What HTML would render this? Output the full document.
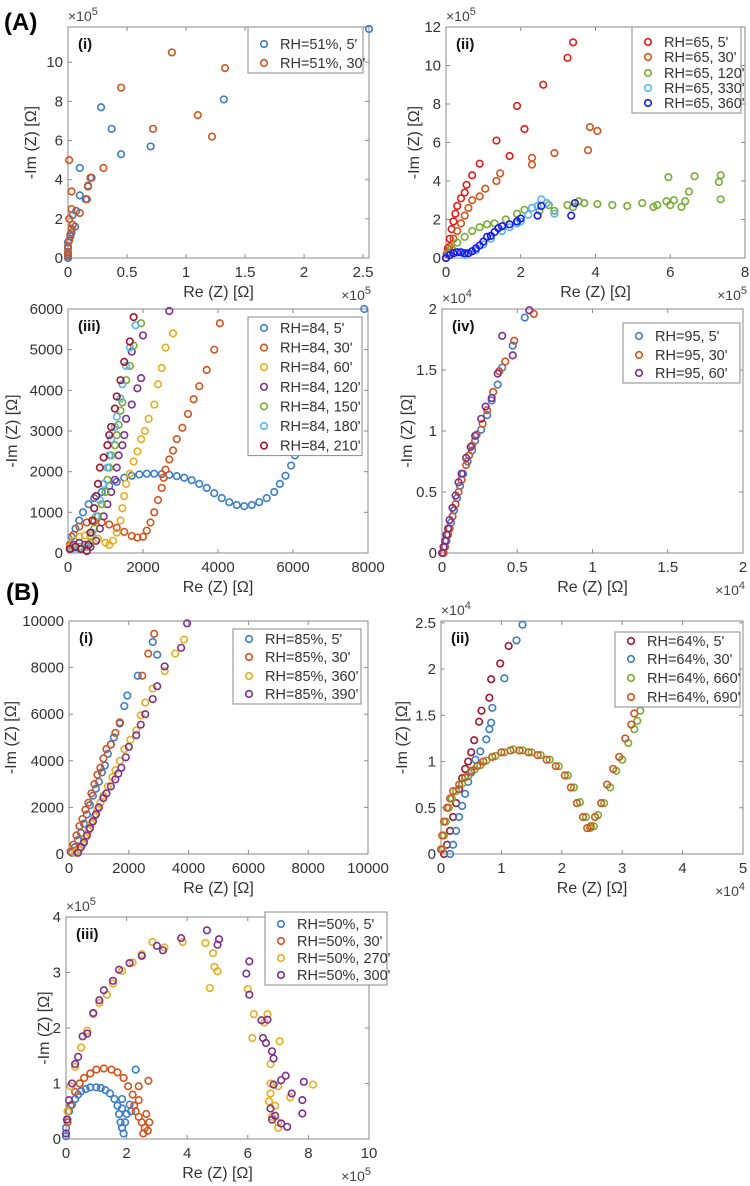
<!DOCTYPE html>
<html><head><meta charset="utf-8">
<style>
html,body{margin:0;padding:0;background:#fff;}
svg{display:block;font-family:"Liberation Sans",sans-serif;}
</style></head>
<body>
<svg id="fig" width="750" height="1186" viewBox="0 0 750 1186" xmlns="http://www.w3.org/2000/svg">
<rect width="750" height="1186" fill="#fff"/>
<text x="4" y="30" font-size="24" font-weight="bold" fill="#000">(A)</text>
<text x="6" y="600" font-size="24" font-weight="bold" fill="#000">(B)</text>
</svg>
<script>
// ---------- DATA ----------
// A(i)  units 1e5 Ohm
const a1_5 = [[0,0],[0,0.2],[0,0.5],[0,0.8],[0.02,1.1],[0.03,1.3],[0.06,1.6],[0.04,2.2],[0.07,2.4],[0.1,3.2],[0.15,3.0],[0.17,3.7],[0.2,4.1],[0.1,4.6],[0.45,5.3],[0.28,7.7],[0.37,6.6],[0.7,5.7],[1.32,8.1],[2.25,11.4],[2.55,11.7]];
const a1_30 = [[0,0.1],[0,0.3],[0,0.6],[0.01,0.9],[0.02,1.2],[0.03,1.5],[0.04,1.7],[0.01,2.0],[0.03,2.5],[0.03,3.4],[0.1,2.3],[0.16,3.0],[0.17,3.65],[0.19,4.1],[0.3,4.6],[0.01,5.0],[0.45,8.7],[0.72,6.6],[0.88,10.5],[1.1,7.3],[1.22,6.2],[1.33,9.7]];
// A(ii) units 1e5
const a2_5 = [[0,0],[0.02,0.2],[0.05,0.5],[0.1,1],[0.15,1.5],[0.2,1.9],[0.25,2.3],[0.3,2.7],[0.4,3.1],[0.5,3.4],[0.55,3.8],[0.7,4.3],[0.9,4.9],[1.35,6.1],[1.7,5.3],[1.9,7.9],[2.1,6.7],[2.6,9],[3.25,10.4],[3.4,11.2]];
const a2_30 = [[0.05,0.3],[0.1,0.6],[0.2,1.0],[0.3,1.4],[0.4,1.8],[0.5,2.2],[0.6,2.6],[0.7,3.0],[0.9,3.2],[1.05,3.6],[1.35,4.0],[1.45,4.4],[2.3,5.2],[2.3,4.85],[2.9,5.45],[3.8,5.6],[3.85,6.8],[4.05,6.6]];
const a2_120 = [[0.05,0.2],[0.15,0.5],[0.3,0.8],[0.5,1.1],[0.7,1.4],[0.9,1.6],[1.1,1.75],[1.3,1.8],[1.6,2.0],[1.9,2.3],[2.1,2.5],[2.5,2.45],[2.75,2.75],[2.9,2.45],[3.25,2.75],[3.4,2.65],[3.55,2.95],[3.7,2.85],[4.05,2.8],[4.45,2.75],[4.85,2.7],[5.25,2.85],[5.55,2.65],[5.65,2.75],[5.9,2.95],[6.0,2.75],[6.1,3.0],[6.3,2.65],[6.4,2.95],[6.5,3.45],[5.95,4.2],[6.65,4.25],[7.3,3.95],[7.35,4.3],[7.35,3.05]];
const a2_330 = [[0,0],[0.5,0.15],[0.8,0.4],[1.0,0.7],[1.2,1.0],[1.5,1.4],[1.7,1.6],[1.9,1.8],[2.0,1.9],[2.2,2.25],[2.3,2.6],[2.55,3.05],[2.7,2.85],[2.9,2.3],[2.45,2.7]];
const a2_360 = [[0,0],[0.1,0.15],[0.2,0.25],[0.3,0.3],[0.4,0.3],[0.5,0.25],[0.6,0.25],[0.7,0.35],[0.8,0.5],[0.9,0.65],[1.0,0.85],[1.1,1.1],[1.2,1.15],[1.3,1.35],[1.4,1.55],[1.5,1.65],[1.7,1.75],[1.9,1.9],[2.0,2.05],[2.45,2.2],[2.55,2.7],[3.35,2.2],[3.45,2.85]];
// A(iii) units Ohm
const a3_5 = [[50,200],[100,400],[200,600],[300,800],[400,1000],[550,1200],[700,1350],[900,1500],[1100,1650],[1300,1750],[1500,1850],[1700,1900],[1900,1930],[2100,1950],[2300,1950],[2500,1940],[2700,1920],[2900,1890],[3100,1850],[3300,1790],[3500,1700],[3700,1600],[3900,1470],[4100,1350],[4300,1250],[4500,1180],[4700,1150],[4900,1180],[5100,1250],[5300,1350],[5500,1500],[5650,1700],[5800,1900],[5950,2150],[6050,2400],[6100,2650],[6150,2900],[7900,6000]];
const a3_30 = [[50,200],[150,450],[300,650],[500,750],[700,780],[900,750],[1100,700],[1300,620],[1500,520],[1700,420],[1850,380],[2000,400],[2100,550],[2200,750],[2300,1000],[2400,1300],[2500,1600],[2550,1850],[2600,2050],[2700,2300],[2800,2520],[2900,2800],[3050,3080],[3200,3420],[3350,3780],[3500,4100],[3700,4500],[3900,5000],[4050,5650]];
const a3_60 = [[50,150],[150,300],[300,400],[450,430],[600,420],[800,350],[1000,250],[1100,200],[1200,300],[1300,500],[1400,800],[1450,1100],[1500,1400],[1550,1700],[1650,1950],[1750,2250],[1850,2500],[1950,2800],[2050,3000],[2150,3300],[2300,3650],[2400,4150],[2500,4550],[2600,5050],[2800,5400]];
const a3_120 = [[50,100],[150,200],[300,250],[450,200],[600,150],[750,300],[850,600],[950,900],[1050,1200],[1150,1500],[1250,1800],[1300,2100],[1350,2400],[1450,2650],[1500,2900],[1550,3300],[1700,3650],[1850,4050],[1950,4300],[1700,4950],[2000,5350],[2700,5950]];
const a3_150 = [[100,100],[300,150],[500,150],[600,250],[700,600],[800,900],[900,1200],[1000,1500],[1050,1800],[1100,2100],[1150,2400],[1250,2650],[1300,2900],[1350,3150],[1400,3500],[1450,3700],[1550,4250],[1650,4600],[1750,5100],[1950,5650]];
const a3_180 = [[100,80],[300,100],[500,150],[650,500],[750,900],[850,1300],[950,1700],[1050,2100],[1100,2400],[1150,2800],[1250,3100],[1300,3350],[1400,3800],[1450,4150],[1550,4600],[1650,5050],[1800,5600]];
const a3_210 = [[50,100],[200,150],[350,100],[500,50],[550,200],[600,500],[650,800],[700,1100],[750,1400],[800,1700],[850,2100],[950,2350],[1050,2650],[1100,2900],[1150,3100],[1250,3550],[1300,3850],[1400,4250],[1500,4700],[1650,5200],[1750,5800]];
// A(iv) units 1e4
const a4_5 = [[0.01,0],[0.02,0.05],[0.03,0.1],[0.04,0.15],[0.05,0.2],[0.06,0.25],[0.07,0.3],[0.08,0.35],[0.1,0.45],[0.12,0.55],[0.14,0.65],[0.17,0.75],[0.2,0.84],[0.22,0.92],[0.26,1.01],[0.3,1.13],[0.33,1.25],[0.37,1.38],[0.4,1.52],[0.47,1.7],[0.55,1.93]];
const a4_30 = [[0.01,0],[0.02,0.05],[0.04,0.15],[0.05,0.2],[0.07,0.3],[0.09,0.4],[0.11,0.5],[0.13,0.6],[0.16,0.72],[0.18,0.8],[0.2,0.88],[0.23,0.97],[0.27,1.06],[0.3,1.17],[0.34,1.32],[0.38,1.49],[0.42,1.57],[0.48,1.74],[0.61,1.96]];
const a4_60 = [[0,0],[0.01,0.05],[0.02,0.1],[0.03,0.15],[0.04,0.2],[0.05,0.27],[0.07,0.37],[0.09,0.47],[0.11,0.58],[0.13,0.65],[0.16,0.78],[0.19,0.87],[0.22,0.96],[0.26,1.1],[0.29,1.2],[0.33,1.27],[0.37,1.47],[0.4,1.78],[0.47,1.62],[0.58,1.99]];
// B(i) units Ohm
const b1_5 = [[100,50],[200,300],[300,600],[400,900],[500,1300],[600,1700],[700,2100],[800,2500],[900,2800],[1000,3100],[1100,3500],[1200,3800],[1300,4300],[1400,4700],[1500,5000],[1700,5600],[1850,6350],[1950,6800],[2300,7650],[2800,9100],[2950,8550]];
const b1_30 = [[50,100],[150,400],[250,800],[350,1200],[450,1500],[550,1900],[650,2200],[750,2600],[850,3000],[950,3400],[1050,3700],[1150,4100],[1250,4500],[1400,4700],[1550,5200],[1700,5650],[2450,7650],[2650,8600],[2850,9450]];
const b1_360 = [[200,50],[350,200],[450,400],[550,700],[650,1000],[750,1300],[850,1600],[950,1900],[1050,2200],[1150,2500],[1300,2900],[1450,3300],[1550,3600],[1700,4000],[1850,4500],[2050,4900],[2250,5300],[2400,5950],[2550,6500],[2800,7100],[3200,7850],[3550,8600],[3850,9200]];
const b1_390 = [[300,50],[400,300],[500,500],[600,800],[700,1100],[800,1400],[900,1700],[1000,2000],[1150,2400],[1250,2600],[1400,2900],[1550,3200],[1650,3450],[1750,3700],[1900,4150],[2000,4600],[2250,5100],[2400,5550],[2550,6000],[2800,6650],[2950,7200],[3200,8050],[3750,8850],[3950,9900]];
// B(ii) units 1e4
const b2_5 = [[0.05,0],[0.1,0.1],[0.15,0.25],[0.2,0.4],[0.25,0.55],[0.3,0.7],[0.35,0.82],[0.4,0.92],[0.45,1.0],[0.5,1.1],[0.55,1.23],[0.63,1.43],[0.67,1.55],[0.8,1.69],[0.83,1.89],[0.98,2.06],[1.12,2.25]];
const b2_30 = [[0.15,0],[0.2,0.1],[0.25,0.25],[0.3,0.4],[0.35,0.52],[0.4,0.65],[0.45,0.78],[0.5,0.88],[0.57,1.02],[0.65,1.11],[0.75,1.24],[0.8,1.35],[0.83,1.42],[0.85,1.58],[1.05,1.9],[1.25,2.31],[1.35,2.48]];
const b2_660 = [[0.02,0.05],[0.05,0.2],[0.08,0.35],[0.13,0.5],[0.18,0.6],[0.25,0.68],[0.35,0.76],[0.45,0.84],[0.55,0.91],[0.65,0.96],[0.75,1.01],[0.9,1.06],[1.05,1.1],[1.2,1.13],[1.35,1.12],[1.5,1.1],[1.65,1.07],[1.8,1.02],[1.95,0.95],[2.1,0.85],[2.2,0.72],[2.3,0.56],[2.4,0.4],[2.47,0.28],[2.53,0.3],[2.6,0.42],[2.7,0.55],[2.8,0.72],[2.9,0.9],[3.0,1.02],[3.1,1.2],[3.2,1.35],[3.25,1.44],[3.3,1.55]];
const b2_690 = [[0,0.05],[0.02,0.2],[0.05,0.35],[0.1,0.5],[0.15,0.6],[0.2,0.68],[0.3,0.75],[0.4,0.83],[0.5,0.9],[0.6,0.95],[0.7,1.0],[0.85,1.05],[1.0,1.1],[1.15,1.12],[1.3,1.12],[1.45,1.1],[1.6,1.07],[1.75,1.02],[1.9,0.95],[2.05,0.85],[2.15,0.72],[2.25,0.55],[2.35,0.4],[2.42,0.28],[2.48,0.3],[2.55,0.4],[2.65,0.55],[2.75,0.75],[2.85,0.92],[2.95,1.05],[3.05,1.25],[3.15,1.4],[3.2,1.52]];
// B(iii) units 1e5
const b3_5 = [[0,0.05],[0,0.2],[0.05,0.35],[0.1,0.5],[0.2,0.62],[0.3,0.72],[0.4,0.8],[0.5,0.86],[0.65,0.9],[0.8,0.93],[1.0,0.93],[1.15,0.92],[1.3,0.88],[1.45,0.82],[1.6,0.72],[1.7,0.6],[1.75,0.45],[1.8,0.3],[1.85,0.2],[1.9,0.1],[1.95,0.3],[2.0,0.45],[1.85,0.55],[2.1,0.62],[1.85,0.72],[2.15,0.5],[2.3,1.25]];
const b3_30 = [[0.05,0.3],[0.15,0.6],[0.3,0.85],[0.45,1.0],[0.6,1.1],[0.8,1.18],[1.0,1.25],[1.25,1.27],[1.5,1.25],[1.7,1.2],[1.9,1.1],[2.05,0.95],[2.2,0.8],[2.25,0.6],[2.3,0.5],[2.4,0.4],[2.5,0.3],[2.6,0.2],[2.55,0.1],[2.7,0.15],[2.65,0.45],[2.75,0.3],[2.4,0.7],[2.4,0.95],[2.72,1.05]];
const b3_270 = [[0.05,0.5],[0.15,0.95],[0.3,1.3],[0.5,1.65],[0.7,1.95],[0.9,2.25],[1.1,2.45],[1.35,2.6],[1.55,2.8],[1.85,3.03],[2.2,3.18],[2.5,3.33],[2.85,3.55],[3.25,3.45],[3.85,3.55],[4.6,3.53],[4.85,3.35],[4.9,3.1],[5.0,3.02],[4.75,2.72],[6.0,2.7],[6.2,2.25],[6.55,2.1],[6.65,2.25],[6.15,1.82],[7.05,1.76],[6.75,1.35],[6.75,1.0],[7.0,0.95],[6.7,0.68],[6.9,0.6],[6.8,0.4],[7.0,0.3],[7.0,0.2],[7.4,0.75],[8.15,0.98],[6.75,0.82]];
const b3_300 = [[0,0.1],[0.03,0.35],[0.1,0.7],[0.2,1.0],[0.3,1.35],[0.4,1.48],[0.55,1.85],[0.7,1.9],[0.9,2.27],[1.1,2.5],[1.25,2.68],[1.55,2.85],[1.75,3.05],[2.1,3.17],[2.5,3.3],[3.0,3.48],[3.2,3.4],[3.8,3.62],[4.65,3.76],[5.05,3.6],[5.0,3.5],[5.95,2.98],[6.05,3.2],[6.05,2.6],[6.45,2.14],[6.65,2.15],[6.5,1.82],[6.6,1.73],[6.8,1.58],[6.85,1.45],[6.85,0.98],[7.1,1.06],[7.25,1.14],[7.45,0.82],[7.85,1.03],[7.8,0.7],[7.8,0.46],[6.75,0.55],[6.9,0.42],[6.8,0.35],[7.1,0.28],[7.3,0.22]];

const a1_xticks=[0,0.5,1,1.5,2,2.5], a1_yticks=[0,2,4,6,8,10];
const a2_xticks=[0,2,4,6,8], a2_yticks=[0,2,4,6,8,10,12];
const a3_xticks=[0,2000,4000,6000,8000], a3_yticks=[0,1000,2000,3000,4000,5000,6000];
const a4_xticks=[0,0.5,1,1.5,2], a4_yticks=[0,0.5,1,1.5,2];
const b1_xticks=[0,2000,4000,6000,8000,10000], b1_yticks=[0,2000,4000,6000,8000,10000];
const b2_xticks=[0,1,2,3,4,5], b2_yticks=[0,0.5,1,1.5,2,2.5];
const b3_xticks=[0,2,4,6,8,10], b3_yticks=[0,1,2,3,4];

const C={blue:'#3a7dc9',orange:'#d4531c',yellow:'#e8ad1d',purple:'#7e2f8e',green:'#77ac30',lblue:'#5ab4ee',dred:'#a2142f',red:'#e31a1a',dblue:'#1a1aee'};

const panels=[
 {id:'a1',tag:'(i)',L:68,R:369,T:27,B:258,xmax:2.55,ymax:11.8,xt:a1_xticks,yt:a1_yticks,ylx:32,yexp:'5',xexp:'5',
  series:[[a1_5,C.blue,'RH=51%, 5\''],[a1_30,C.orange,'RH=51%, 30\'']],leg:{x:248,y:27,w:115,rows:[44,63]}},
 {id:'a2',tag:'(ii)',L:446,R:745,T:27,B:258,xmax:8,ymax:12,xt:a2_xticks,yt:a2_yticks,ylx:415,yexp:'5',xexp:'5',
  series:[[a2_5,C.red,'RH=65, 5\''],[a2_30,C.orange,'RH=65, 30\''],[a2_120,C.green,'RH=65, 120\''],[a2_330,C.lblue,'RH=65, 330\''],[a2_360,C.dblue,'RH=65, 360\'']],leg:{x:632,y:27,w:109,rows:[42,57,73,88,103]}},
 {id:'a3',tag:'(iii)',L:68,R:368,T:309,B:553,xmax:8000,ymax:6000,xt:a3_xticks,yt:a3_yticks,ylx:13,
  series:[[a3_5,C.blue,'RH=84, 5\''],[a3_30,C.orange,'RH=84, 30\''],[a3_60,C.yellow,'RH=84, 60\''],[a3_120,C.purple,'RH=84, 120\''],[a3_150,C.green,'RH=84, 150\''],[a3_180,C.lblue,'RH=84, 180\''],[a3_210,C.dred,'RH=84, 210\'']],leg:{x:248,y:317,w:114,rows:[328,348,368,388,408,428,447].map((v,i)=>328+i*19.6)}},
 {id:'a4',tag:'(iv)',L:442,R:743,T:309,B:553,xmax:2,ymax:2,xt:a4_xticks,yt:a4_yticks,ylx:408,yexp:'4',xexp:'4',
  series:[[a4_5,C.blue,'RH=95, 5\''],[a4_30,C.orange,'RH=95, 30\''],[a4_60,C.purple,'RH=95, 60\'']],leg:{x:623,y:323,w:117,rows:[336,355,373]}},
 {id:'b1',tag:'(i)',L:69,R:368,T:621,B:854,xmax:10000,ymax:10000,xt:b1_xticks,yt:b1_yticks,ylx:12,
  series:[[b1_5,C.blue,'RH=85%, 5\''],[b1_30,C.orange,'RH=85%, 30\''],[b1_360,C.yellow,'RH=85%, 360\''],[b1_390,C.purple,'RH=85%, 390\'']],leg:{x:233,y:629,w:128,rows:[639,657,676,694]}},
 {id:'b2',tag:'(ii)',L:441,R:743,T:621,B:854,xmax:5,ymax:2.52,xt:b2_xticks,yt:b2_yticks,ylx:403,yexp:'4',xexp:'4',
  series:[[b2_5,C.dred,'RH=64%, 5\''],[b2_30,C.blue,'RH=64%, 30\''],[b2_660,C.green,'RH=64%, 660\''],[b2_690,C.orange,'RH=64%, 690\'']],leg:{x:615,y:632,w:125,rows:[641,659,678,697]}},
 {id:'b3',tag:'(iii)',L:66,R:369,T:917,B:1139,xmax:10,ymax:4,xt:b3_xticks,yt:b3_yticks,ylx:45,yexp:'5',xexp:'5',
  series:[[b3_5,C.blue,'RH=50%, 5\''],[b3_30,C.orange,'RH=50%, 30\''],[b3_270,C.yellow,'RH=50%, 270\''],[b3_300,C.purple,'RH=50%, 300\'']],leg:{x:265,y:912,w:122,rows:[924,941,958,975]}}
];

const NS='http://www.w3.org/2000/svg';
const svg=document.getElementById('fig');
function mk(tag,attrs,parent){const e=document.createElementNS(NS,tag);for(const k in attrs)e.setAttribute(k,attrs[k]);(parent||svg).appendChild(e);return e;}

panels.forEach(p=>{
  const g=mk('g',{});
  
  
  const xs=v=>p.L+(p.R-p.L)*v/p.xmax;
  const ys=v=>p.B-(p.B-p.T)*v/p.ymax;
  const ax=mk('rect',{x:p.L,y:p.T,width:p.R-p.L,height:p.B-p.T,fill:'#fff',stroke:'#8a8a8a','stroke-width':1},g);
  
  
  p.xt.forEach(v=>{
    const x=xs(v);
    mk('line',{x1:x,x2:x,y1:p.B,y2:p.B-4,stroke:'#8a8a8a'},g);
    mk('line',{x1:x,x2:x,y1:p.T,y2:p.T+4,stroke:'#8a8a8a'},g);
    const t=mk('text',{x:x,y:p.B+19,'font-size':15,fill:'#333','text-anchor':'middle'},g);
    t.textContent=String(v);
    
    
  });
  p.yt.forEach(v=>{
    const y=ys(v);
    mk('line',{x1:p.L,x2:p.L+4,y1:y,y2:y,stroke:'#8a8a8a'},g);
    mk('line',{x1:p.R,x2:p.R-4,y1:y,y2:y,stroke:'#8a8a8a'},g);
    const t=mk('text',{x:p.L-5,y:y+5,'font-size':15,fill:'#333','text-anchor':'end'},g);
    t.textContent=String(v);
    
    
  });
  const xl=mk('text',{x:(p.L+p.R)/2,y:p.B+39,'font-size':16,fill:'#333','text-anchor':'middle'},g);
  xl.textContent='Re (Z) [Ω]';
  
  
  const yc=(p.T+p.B)/2;
  const yl=mk('text',{x:p.ylx,y:yc,'font-size':16,fill:'#333','text-anchor':'middle',transform:`rotate(-90 ${p.ylx} ${yc})`,'dominant-baseline':'middle'},g);
  yl.textContent='-Im (Z) [Ω]';
  
  
  if(p.yexp){
    const t=mk('text',{x:p.L,y:p.T-6,'font-size':14,fill:'#444'},g);
    t.innerHTML='×10<tspan dy="-6" font-size="11">'+p.yexp+'</tspan>';
    
    
  }
  if(p.xexp){
    const t=mk('text',{x:p.R+2,y:p.B+42,'font-size':14,fill:'#444','text-anchor':'end'},g);
    t.innerHTML='×10<tspan dy="-6" font-size="11">'+p.xexp+'</tspan>';
    
    
  }
  const tg=mk('text',{x:p.L+10,y:p.T+22,'font-size':15,'font-weight':'bold',fill:'#111'},g);
  tg.textContent=p.tag;
  
  
  p.series.forEach(s=>{
    const sg=mk('g',{fill:'none',stroke:s[1],'stroke-width':1.6},g);
    
    
    s[0].forEach(d=>{
      const c=mk('circle',{cx:xs(d[0]),cy:ys(d[1]),r:3.3},sg);
      
      
    });
  });
  const lg=mk('g',{},g);
  
  
  const L=p.leg, last=L.rows[L.rows.length-1];
  mk('rect',{x:L.x,y:L.y,width:L.w,height:last-L.y+10,fill:'#fff',stroke:'#8a8a8a'},lg);
  p.series.forEach((s,i)=>{
    const e=mk('g',{},lg);
    
    
    mk('circle',{cx:L.x+16,cy:L.rows[i],r:3.3,fill:'none',stroke:s[1],'stroke-width':1.6},e);
    const t=mk('text',{x:L.x+32,y:L.rows[i]+5,'font-size':14.5,fill:'#333'},e);
    t.textContent=s[2];
  });
});
</script>
</body></html>
